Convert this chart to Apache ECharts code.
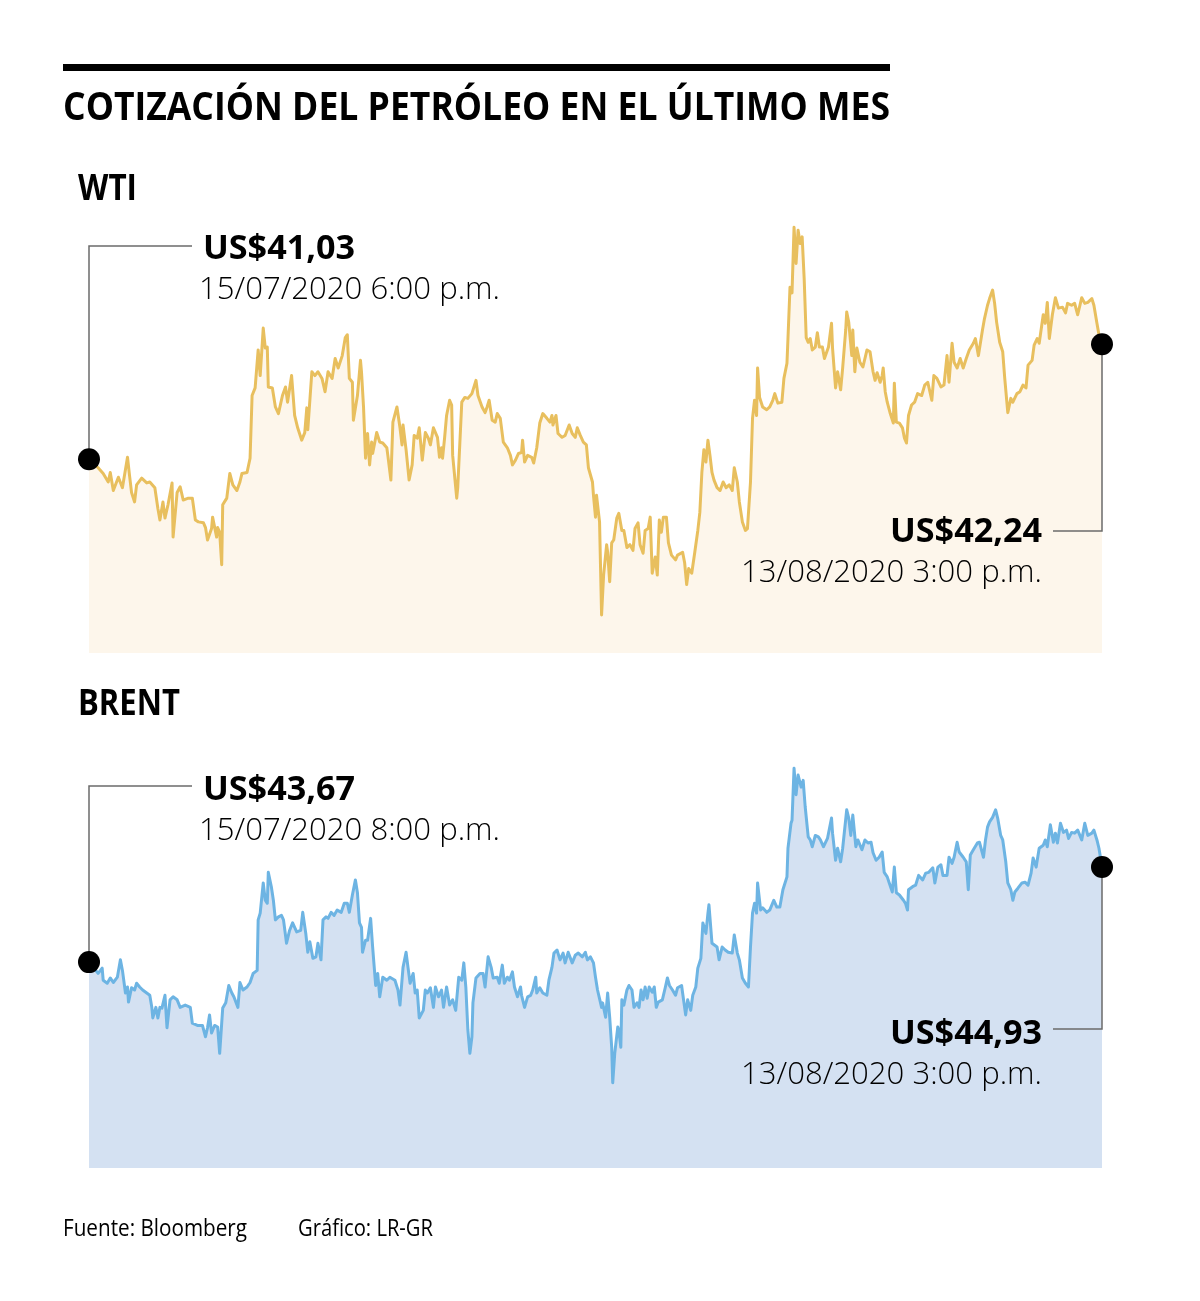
<!DOCTYPE html>
<html><head><meta charset="utf-8">
<script src="https://cdn.jsdelivr.net/npm/echarts@6/dist/echarts.min.js"></script>
<style>html,body{margin:0;padding:0;background:#fff}#c{width:1200px;height:1301px}</style>
</head><body><div id="c"></div>
<script>
// ---- DATA ----
const title = 'COTIZACIÓN DEL PETRÓLEO EN EL ÚLTIMO MES';
const panelNames = ['WTI', 'BRENT'];
// [position along the month (0-100 %), price US$]
const wtiPoints = [[0,41.03],[0.9,40.94],[1.4,40.88],[1.9,40.79],[2.1,40.89],[2.4,40.70],[2.9,40.84],[3.3,40.73],[3.8,41.05],[4.0,40.86],[4.2,40.68],[4.5,40.58],[4.7,40.76],[5.2,40.83],[5.7,40.78],[6.0,40.79],[6.5,40.73],[6.8,40.51],[7.0,40.39],[7.3,40.58],[7.5,40.41],[7.8,40.55],[8.2,40.78],[8.3,40.21],[8.7,40.68],[9.0,40.74],[9.3,40.60],[9.8,40.62],[10.2,40.62],[10.5,40.39],[10.8,40.37],[11.3,40.36],[11.5,40.31],[11.7,40.18],[12.1,40.30],[12.2,40.42],[12.6,40.21],[12.7,40.31],[12.9,40.26],[13.1,39.92],[13.2,40.55],[13.6,40.62],[13.9,40.88],[14.2,40.76],[14.6,40.70],[14.9,40.79],[15.1,40.88],[15.6,40.89],[15.9,41.04],[16.1,41.70],[16.4,41.78],[16.7,42.18],[16.9,41.91],[17.2,42.41],[17.4,42.20],[17.6,42.21],[17.7,41.79],[18.1,41.78],[18.4,41.58],[18.7,41.51],[19.1,41.70],[19.4,41.79],[19.6,41.63],[20.0,41.91],[20.3,41.49],[20.6,41.36],[21.0,41.23],[21.3,41.31],[21.5,41.57],[21.6,41.34],[22.0,41.95],[22.3,41.91],[22.6,41.95],[23.0,41.88],[23.3,41.74],[23.6,41.95],[24.0,41.88],[24.3,42.09],[24.6,41.99],[25.0,42.12],[25.3,42.31],[25.5,42.34],[25.7,41.88],[26.0,41.84],[26.1,41.44],[26.5,41.70],[26.6,41.68],[26.8,42.07],[26.9,41.95],[27.1,41.58],[27.3,41.04],[27.5,41.30],[27.7,40.97],[27.9,41.21],[28.0,41.09],[28.4,41.31],[28.7,41.21],[29.0,41.20],[29.4,41.15],[29.5,41.07],[29.8,40.81],[30.0,41.42],[30.4,41.58],[30.7,41.36],[30.9,41.18],[31.0,41.39],[31.3,41.13],[31.4,41.15],[31.6,40.81],[31.9,40.97],[32.1,41.28],[32.4,41.25],[32.6,41.36],[32.9,41.02],[33.2,41.31],[33.5,41.25],[33.7,41.18],[34.0,41.36],[34.4,41.26],[34.6,41.05],[34.8,41.15],[34.9,41.04],[35.1,41.25],[35.3,41.49],[35.6,41.65],[35.8,41.60],[35.9,41.07],[36.3,40.62],[36.4,40.73],[36.8,41.63],[37.1,41.68],[37.4,41.67],[37.8,41.72],[38.2,41.86],[38.4,41.70],[38.8,41.58],[39.1,41.52],[39.3,41.58],[39.5,41.65],[39.8,41.44],[40.1,41.42],[40.3,41.51],[40.6,41.46],[40.9,41.21],[41.3,41.15],[41.6,41.07],[41.8,40.97],[42.1,41.02],[42.4,41.09],[42.7,41.10],[42.8,41.23],[43.0,41.00],[43.3,41.07],[43.7,41.05],[43.9,40.99],[44.2,41.15],[44.5,41.41],[44.8,41.51],[45.2,41.46],[45.5,41.42],[45.7,41.49],[45.8,41.39],[46.1,41.49],[46.3,41.30],[46.7,41.26],[47.0,41.28],[47.4,41.39],[47.7,41.30],[48.0,41.26],[48.2,41.36],[48.5,41.28],[48.8,41.21],[49.1,41.18],[49.3,40.94],[49.7,40.79],[49.8,40.65],[50.0,40.42],[50.1,40.65],[50.4,40.37],[50.6,39.39],[50.8,39.81],[51.1,40.13],[51.2,40.05],[51.4,39.74],[51.6,40.15],[51.8,40.18],[52.1,40.41],[52.3,40.46],[52.6,40.28],[52.8,40.28],[53.1,40.10],[53.4,40.13],[53.7,40.07],[53.9,40.30],[54.2,40.36],[54.4,40.13],[54.7,40.04],[54.9,40.28],[55.2,40.30],[55.4,40.42],[55.6,39.83],[55.9,40.00],[56.1,39.81],[56.3,40.39],[56.5,40.26],[56.7,40.42],[57.0,40.42],[57.2,40.15],[57.5,40.02],[57.9,39.97],[58.1,40.02],[58.6,40.05],[58.8,39.94],[59.0,39.71],[59.2,39.88],[59.5,39.83],[59.8,40.05],[60.1,40.28],[60.3,40.47],[60.5,40.89],[60.7,41.13],[60.9,41.00],[61.1,41.23],[61.3,41.07],[61.5,40.89],[61.7,40.81],[62.0,40.73],[62.3,40.70],[62.6,40.79],[62.9,40.73],[63.2,40.76],[63.5,40.70],[63.7,40.94],[64.0,40.79],[64.2,40.58],[64.5,40.37],[64.8,40.28],[65.0,40.30],[65.3,40.79],[65.5,41.46],[65.7,41.65],[65.9,41.49],[66.0,41.99],[66.2,41.68],[66.5,41.58],[66.9,41.55],[67.2,41.58],[67.5,41.65],[67.7,41.72],[68.0,41.62],[68.4,41.63],[68.6,41.88],[68.9,42.04],[69.0,42.30],[69.2,42.84],[69.4,42.78],[69.6,43.47],[69.8,43.09],[70.0,43.44],[70.2,43.30],[70.4,43.37],[70.6,42.93],[70.8,42.31],[71.0,42.26],[71.2,42.30],[71.4,42.18],[71.7,42.21],[71.9,42.36],[72.1,42.21],[72.4,42.21],[72.6,42.09],[73.0,42.21],[73.3,42.46],[73.4,42.20],[73.7,41.78],[73.9,41.95],[74.2,41.76],[74.4,41.99],[74.7,42.39],[74.8,42.58],[75.0,42.47],[75.3,42.12],[75.4,42.39],[75.6,41.95],[75.8,42.20],[76.1,42.05],[76.4,42.00],[76.8,42.18],[77.1,42.16],[77.4,41.95],[77.6,41.86],[77.8,41.94],[78.1,41.84],[78.3,41.91],[78.4,41.99],[78.6,41.74],[78.8,41.63],[79.1,41.51],[79.4,41.41],[79.5,41.83],[79.7,41.42],[80.0,41.41],[80.3,41.36],[80.5,41.25],[80.7,41.20],[80.9,41.49],[81.2,41.60],[81.5,41.63],[81.8,41.72],[82.2,41.70],[82.5,41.81],[82.8,41.84],[83.2,41.65],[83.4,41.91],[83.7,41.88],[84.1,41.79],[84.4,41.81],[84.7,42.12],[84.9,41.84],[85.2,42.25],[85.4,42.05],[85.7,41.99],[86.0,42.09],[86.3,41.99],[86.6,42.09],[86.9,42.18],[87.3,42.25],[87.5,42.30],[87.8,42.12],[88.2,42.39],[88.4,42.51],[88.7,42.65],[88.9,42.72],[89.2,42.81],[89.4,42.67],[89.6,42.47],[89.9,42.26],[90.2,42.16],[90.4,41.88],[90.7,41.52],[91.0,41.67],[91.2,41.63],[91.6,41.72],[91.9,41.74],[92.2,41.81],[92.5,41.78],[92.7,42.02],[93.1,42.07],[93.3,42.23],[93.6,42.30],[93.8,42.25],[94.2,42.55],[94.4,42.46],[94.6,42.68],[94.8,42.30],[95.1,42.55],[95.4,42.73],[95.7,42.62],[96.1,42.63],[96.4,42.57],[96.6,42.67],[97.0,42.65],[97.3,42.67],[97.6,42.55],[98.0,42.73],[98.3,42.67],[98.6,42.68],[99.0,42.72],[99.2,42.65],[99.5,42.46],[99.7,42.34],[100,42.24]];
const brentPoints = [[0,43.67],[0.9,43.52],[1.3,43.59],[1.4,43.43],[1.8,43.39],[2.1,43.46],[2.4,43.40],[2.8,43.47],[3.1,43.70],[3.3,43.56],[3.6,43.26],[3.8,43.34],[3.9,43.14],[4.2,43.33],[4.5,43.30],[4.7,43.39],[5.0,43.34],[5.3,43.30],[5.7,43.26],[6.0,43.23],[6.2,43.07],[6.3,42.93],[6.6,43.07],[6.8,42.93],[7.0,43.07],[7.2,43.06],[7.5,43.23],[7.7,42.80],[8.0,43.17],[8.3,43.21],[8.7,43.17],[9.0,43.07],[9.5,43.10],[10.0,43.07],[10.2,42.86],[10.7,42.83],[11.2,42.83],[11.5,42.68],[11.7,42.80],[11.9,42.97],[12.1,42.73],[12.4,42.83],[12.7,42.81],[12.9,42.46],[13.1,42.86],[13.2,43.06],[13.5,43.13],[13.8,43.36],[14.1,43.26],[14.3,43.21],[14.7,43.07],[14.9,43.40],[15.2,43.30],[15.6,43.34],[15.9,43.40],[16.2,43.52],[16.6,43.56],[16.7,44.23],[16.9,44.32],[17.2,44.72],[17.4,44.49],[17.6,44.45],[17.7,44.86],[18.0,44.67],[18.2,44.49],[18.4,44.23],[18.7,44.27],[19.0,44.29],[19.2,44.23],[19.5,43.92],[19.8,44.09],[20.1,44.19],[20.5,44.07],[20.9,44.09],[21.1,44.33],[21.4,44.05],[21.6,43.80],[21.8,43.94],[22.1,43.72],[22.4,43.74],[22.6,43.92],[22.9,43.70],[23.1,44.23],[23.4,44.27],[23.6,44.25],[23.9,44.33],[24.2,44.29],[24.5,44.36],[24.9,44.33],[25.2,44.45],[25.5,44.45],[25.7,44.33],[26.0,44.56],[26.3,44.76],[26.5,44.59],[26.7,44.19],[26.9,44.13],[27.0,43.80],[27.3,43.96],[27.5,43.96],[27.8,44.25],[28.0,43.87],[28.3,43.36],[28.5,43.52],[28.7,43.21],[29.0,43.47],[29.4,43.43],[29.7,43.47],[30.2,43.43],[30.5,43.30],[30.7,43.10],[31.0,43.60],[31.3,43.80],[31.5,43.59],[31.7,43.39],[32.0,43.52],[32.2,43.26],[32.4,43.30],[32.6,42.93],[33.0,43.03],[33.2,43.30],[33.4,43.26],[33.7,43.33],[34.0,43.07],[34.2,43.34],[34.5,43.21],[34.8,43.30],[35.0,43.07],[35.3,43.34],[35.6,43.10],[35.9,43.17],[36.2,43.03],[36.5,43.47],[36.8,43.43],[37.0,43.66],[37.2,43.34],[37.4,42.77],[37.6,42.46],[37.8,42.68],[37.9,43.13],[38.2,43.46],[38.6,43.52],[38.9,43.52],[39.1,43.34],[39.4,43.74],[39.7,43.60],[39.9,43.46],[40.3,43.47],[40.5,43.39],[40.8,43.63],[41.0,43.39],[41.3,43.47],[41.5,43.43],[41.8,43.54],[42.0,43.34],[42.3,43.21],[42.6,43.34],[42.7,43.23],[43.0,43.07],[43.3,43.21],[43.6,43.23],[43.8,43.30],[44.1,43.47],[44.2,43.26],[44.5,43.33],[44.8,43.26],[45.2,43.23],[45.4,43.43],[45.7,43.60],[45.9,43.79],[46.2,43.83],[46.5,43.70],[46.8,43.79],[47.0,43.66],[47.3,43.80],[47.7,43.66],[48.0,43.76],[48.3,43.79],[48.7,43.74],[49.0,43.80],[49.2,43.70],[49.5,43.74],[49.8,43.66],[50.0,43.47],[50.2,43.30],[50.6,43.07],[50.7,43.13],[51.0,42.94],[51.2,43.26],[51.4,42.94],[51.6,42.54],[51.7,42.07],[51.9,42.46],[52.2,42.81],[52.3,42.77],[52.5,42.54],[52.6,43.17],[52.8,43.10],[53.1,43.30],[53.3,43.36],[53.6,43.30],[53.8,43.07],[54.1,43.13],[54.3,43.07],[54.5,43.30],[54.7,43.17],[54.9,43.34],[55.1,43.19],[55.3,43.34],[55.6,43.27],[55.8,43.34],[56.0,43.07],[56.2,43.14],[56.6,43.17],[56.9,43.34],[57.1,43.46],[57.3,43.36],[57.6,43.30],[57.9,43.23],[58.1,43.33],[58.5,43.36],[58.6,43.26],[58.9,42.97],[59.1,43.17],[59.4,43.03],[59.6,43.23],[59.9,43.34],[60.1,43.59],[60.4,43.72],[60.6,44.19],[60.9,44.05],[61.1,44.32],[61.2,44.43],[61.5,43.92],[61.7,43.90],[62.0,43.87],[62.2,43.70],[62.5,43.87],[62.8,43.83],[63.1,43.80],[63.5,43.79],[63.7,44.03],[64.0,43.79],[64.2,43.70],[64.5,43.46],[64.8,43.39],[65.1,43.34],[65.3,43.87],[65.5,44.32],[65.7,44.45],[65.9,44.32],[66.0,44.72],[66.3,44.36],[66.5,44.39],[66.9,44.33],[67.2,44.36],[67.6,44.49],[67.9,44.40],[68.2,44.40],[68.5,44.63],[68.9,44.80],[69.0,45.18],[69.3,45.51],[69.4,45.55],[69.6,46.24],[69.8,45.89],[70.0,46.15],[70.3,45.99],[70.5,46.08],[70.7,45.73],[71.0,45.33],[71.2,45.29],[71.4,45.20],[71.7,45.35],[72.0,45.33],[72.2,45.29],[72.5,45.20],[72.9,45.31],[73.3,45.58],[73.4,45.38],[73.7,45.02],[73.9,45.18],[74.2,45.00],[74.4,45.18],[74.8,45.69],[75.0,45.58],[75.2,45.35],[75.4,45.62],[75.7,45.20],[75.9,45.29],[76.3,45.16],[76.6,45.29],[76.9,45.25],[77.2,45.26],[77.4,45.12],[77.7,45.02],[78.0,45.06],[78.3,45.13],[78.5,44.86],[78.8,44.80],[79.0,44.72],[79.3,44.60],[79.5,44.93],[79.7,44.59],[80.0,44.56],[80.4,44.49],[80.6,44.45],[80.8,44.36],[80.9,44.63],[81.3,44.67],[81.6,44.69],[81.9,44.82],[82.3,44.76],[82.6,44.85],[82.9,44.86],[83.3,44.92],[83.5,44.72],[83.8,44.93],[84.1,44.96],[84.3,44.82],[84.7,44.82],[84.9,45.06],[85.2,44.98],[85.4,45.06],[85.7,45.26],[85.9,45.13],[86.3,45.06],[86.6,45.00],[86.8,44.63],[87.0,45.09],[87.3,45.16],[87.7,45.25],[87.9,45.26],[88.3,45.06],[88.5,45.29],[88.7,45.46],[88.9,45.53],[89.2,45.59],[89.5,45.69],[89.7,45.58],[90.0,45.35],[90.2,45.29],[90.5,45.00],[90.7,44.72],[91.0,44.63],[91.2,44.49],[91.4,44.60],[91.7,44.65],[92.1,44.72],[92.4,44.73],[92.7,44.69],[93.0,44.85],[93.2,45.05],[93.5,44.93],[93.8,45.18],[94.2,45.22],[94.4,45.29],[94.6,45.20],[94.9,45.49],[95.2,45.26],[95.4,45.38],[95.6,45.25],[95.9,45.51],[96.2,45.39],[96.5,45.42],[96.7,45.31],[97.0,45.39],[97.3,45.38],[97.6,45.42],[98.0,45.29],[98.3,45.51],[98.6,45.35],[99.0,45.38],[99.2,45.42],[99.5,45.29],[99.7,45.18],[100,44.93]];
const wtiLabels = ['US$41,03', '15/07/2020 6:00 p.m.', 'US$42,24', '13/08/2020 3:00 p.m.'];
const brentLabels = ['US$43,67', '15/07/2020 8:00 p.m.', 'US$44,93', '13/08/2020 3:00 p.m.'];
const footerTexts = ['Fuente: Bloomberg', 'Gráfico: LR-GR'];
const wtiRange = [38.99, 43.6];
const brentRange = [40.94, 46.35];

// ---- STYLE ----
const FONT = '"Open Sans", "Noto Sans", sans-serif';
const wtiLine = '#E8BF5E', wtiFill = '#FDF6EB';
const brentLine = '#6DB4E3', brentFill = '#D4E1F2';

const chart = echarts.init(document.getElementById('c'), null, {renderer: 'canvas'});

function lineSeries(idx, data, lc, fc) {
  return {
    type: 'line', xAxisIndex: idx, yAxisIndex: idx, data: data,
    showSymbol: false, symbol: 'none', smooth: false, silent: true,
    lineStyle: {color: lc, width: 3, join: 'round', opacity: 1},
    areaStyle: {color: fc, opacity: 1, origin: 'start'},
    z: 2, animation: false
  };
}
function dotSeries(idx, data) {
  return {
    type: 'scatter', xAxisIndex: idx, yAxisIndex: idx,
    data: [data[0], data[data.length - 1]],
    symbolSize: 22, itemStyle: {color: '#000', opacity: 1}, z: 10, silent: true,
    clip: false, animation: false
  };
}
const hidden = {show: false};
chart.setOption({
  backgroundColor: '#fff',
  animation: false,
  grid: [
    {left: 89, top: 215, width: 1013, height: 438},
    {left: 89, top: 760, width: 1013, height: 408}
  ],
  xAxis: [0, 1].map(i => ({type: 'value', gridIndex: i, min: 0, max: 100, show: false, splitLine: hidden})),
  yAxis: [
    {type: 'value', gridIndex: 0, min: wtiRange[0], max: wtiRange[1], show: false, splitLine: hidden},
    {type: 'value', gridIndex: 1, min: brentRange[0], max: brentRange[1], show: false, splitLine: hidden}
  ],
  series: [
    lineSeries(0, wtiPoints, wtiLine, wtiFill),
    lineSeries(1, brentPoints, brentLine, brentFill),
    dotSeries(0, wtiPoints),
    dotSeries(1, brentPoints)
  ]
});

// text helper with horizontal fit
const mctx = document.createElement('canvas').getContext('2d');
function txt(str, font, x, y, targetW, align) {
  mctx.font = font;
  const w = mctx.measureText(str).width;
  const sx = targetW ? targetW / w : 1;
  return {
    type: 'text', x: x, y: y, scaleX: sx, z: 30, silent: true,
    style: {text: str, font: font, fill: '#000', align: align || 'left', textAlign: align || 'left',
            verticalAlign: 'middle', textVerticalAlign: 'middle'}
  };
}
function leader(points) {
  return {type: 'polyline', z: 8, silent: true, shape: {points: points},
          style: {stroke: '#6b6b6b', lineWidth: 1.5, fill: null}};
}

const BOLD = (s) => '700 ' + s + 'px ' + FONT;
const LIGHT = (s) => '300 ' + s + 'px ' + FONT;

const ws = chart.convertToPixel({gridIndex: 0}, wtiPoints[0]);
const we = chart.convertToPixel({gridIndex: 0}, wtiPoints[wtiPoints.length - 1]);
const bs = chart.convertToPixel({gridIndex: 1}, brentPoints[0]);
const be = chart.convertToPixel({gridIndex: 1}, brentPoints[brentPoints.length - 1]);

const g = [
  {type: 'rect', z: 30, shape: {x: 63, y: 64, width: 827, height: 7}, style: {fill: '#000'}},
  txt(title, BOLD(40), 63, 109, 827),
  txt(panelNames[0], BOLD(36), 78, 190, 59),
  txt(panelNames[1], BOLD(36), 78, 705, 102),
  // WTI
  leader([[192, 246], [ws[0], 246], [ws[0], ws[1]]]),
  txt(wtiLabels[0], BOLD(34), 203, 249, 152),
  txt(wtiLabels[1], LIGHT(32), 199, 290, 301),
  leader([[we[0], we[1]], [we[0], 531], [1053, 531]]),
  txt(wtiLabels[2], BOLD(34), 1042, 532, 152, 'right'),
  txt(wtiLabels[3], LIGHT(32), 1042, 573, 301, 'right'),
  // BRENT
  leader([[192, 786], [bs[0], 786], [bs[0], bs[1]]]),
  txt(brentLabels[0], BOLD(34), 203, 790, 152),
  txt(brentLabels[1], LIGHT(32), 199, 831, 301),
  leader([[be[0], be[1]], [be[0], 1029], [1053, 1029]]),
  txt(brentLabels[2], BOLD(34), 1042, 1034, 152, 'right'),
  txt(brentLabels[3], LIGHT(32), 1042, 1075, 301, 'right'),
  // footer
  txt(footerTexts[0], '400 23px ' + FONT, 63, 1229, 184),
  txt(footerTexts[1], '400 23px ' + FONT, 298, 1229, 135)
];
chart.setOption({graphic: g});
</script>
</body></html>
